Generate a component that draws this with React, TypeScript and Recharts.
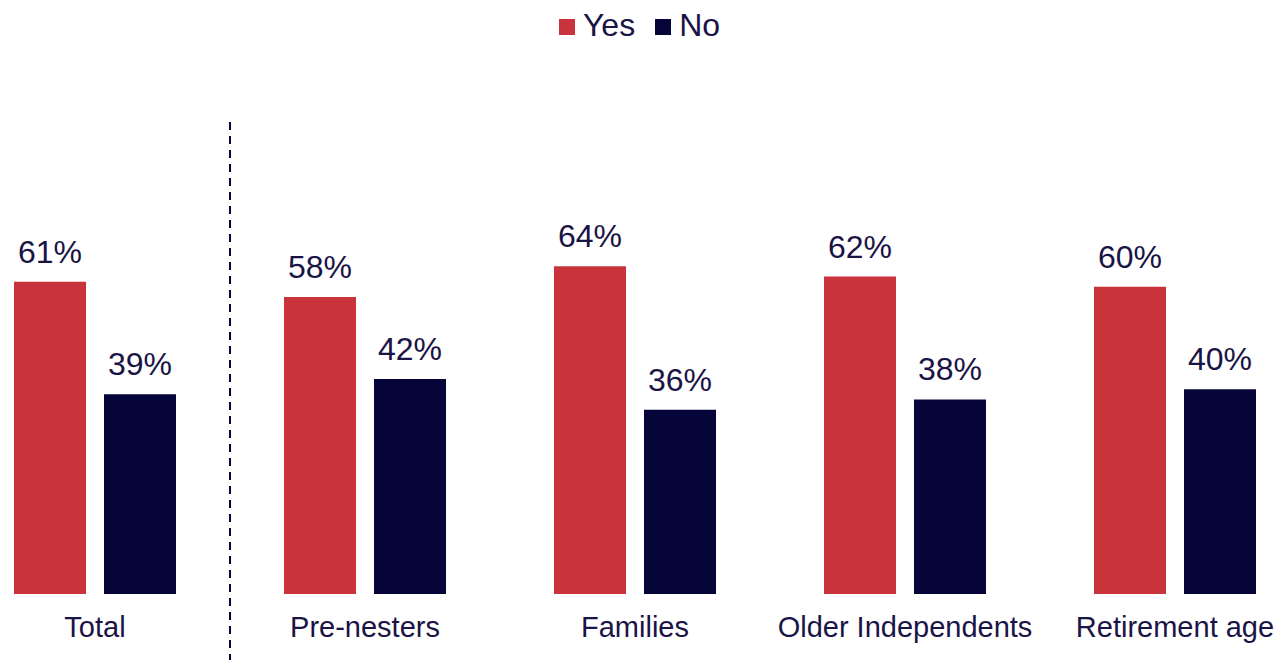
import React from "react";
import { BarChart, Bar, XAxis, YAxis, Legend, LabelList, ReferenceLine } from "recharts";

const categories = ["Total", "Pre-nesters", "Families", "Older Independents", "Retirement age"];
const yesValues = [61, 58, 64, 62, 60];
const noValues = [39, 42, 36, 38, 40];
const seriesNames = ["Yes", "No"];

const data = categories.map((name, i) => ({ name, Yes: yesValues[i], No: noValues[i] }));

const RED = "#C9333B";
const NAVY = "#06053A";
const TEXT = "#1A1446";
const FONT = "'Liberation Sans', Arial, sans-serif";

const LegendContent = (props: any) => {
  const payload = [...(props.payload || [])].sort(
    (a: any, b: any) => seriesNames.indexOf(a.value) - seriesNames.indexOf(b.value)
  );
  return (
    <div
      style={{
        height: 82,
        display: "flex",
        justifyContent: "center",
        alignItems: "flex-start",
        paddingLeft: 9,
        fontFamily: FONT,
      }}
    >
      <div style={{ display: "flex", alignItems: "center", height: 50, marginTop: 0 }}>
        {payload.map((p: any, i: number) => (
          <div key={i} style={{ display: "flex", alignItems: "center", marginLeft: i === 0 ? 0 : 20 }}>
            <span style={{ display: "inline-block", width: 16, height: 16, background: p.color, marginRight: 8, marginTop: 3 }} />
            <span style={{ fontSize: 32, color: TEXT, lineHeight: "50px" }}>{p.value}</span>
          </div>
        ))}
      </div>
    </div>
  );
};

export default function App() {
  return (
    <div style={{ position: "absolute", left: 0, top: 0, width: 1279, height: 660, overflow: "hidden", background: "#fff" }}>
      <div style={{ position: "absolute", left: -40, top: 0 }}>
        <BarChart
          width={1350}
          height={660}
          data={data}
          margin={{ top: 0, right: 0, bottom: 0, left: 0 }}
          barGap={18}
          style={{ fontFamily: FONT }}
        >
          <XAxis
            dataKey="name"
            axisLine={false}
            tickLine={false}
            tickSize={0}
            tickMargin={22}
            height={66}
            interval={0}
            tick={{ fontSize: 29, fill: TEXT, fontFamily: FONT }}
          />
          <YAxis hide domain={[0, 100]} />
          <Legend verticalAlign="top" align="center" content={<LegendContent />} />
          <ReferenceLine
            segment={[{ x: "Pre-nesters", y: 92.2 }, { x: "Pre-nesters", y: -13 }]}
            position="start"
            ifOverflow="visible"
            stroke={NAVY}
            strokeWidth={2}
            strokeDasharray="8 6"
          />
          <Bar dataKey={seriesNames[0]} fill={RED} barSize={72} isAnimationActive={false}>
            <LabelList
              dataKey={seriesNames[0]}
              position="top"
              offset={19}
              formatter={(v: any) => `${v}%`}
              style={{ fontSize: 32, fill: TEXT, fontFamily: FONT }}
            />
          </Bar>
          <Bar dataKey={seriesNames[1]} fill={NAVY} barSize={72} isAnimationActive={false}>
            <LabelList
              dataKey={seriesNames[1]}
              position="top"
              offset={19}
              formatter={(v: any) => `${v}%`}
              style={{ fontSize: 32, fill: TEXT, fontFamily: FONT }}
            />
          </Bar>
        </BarChart>
      </div>
    </div>
  );
}
